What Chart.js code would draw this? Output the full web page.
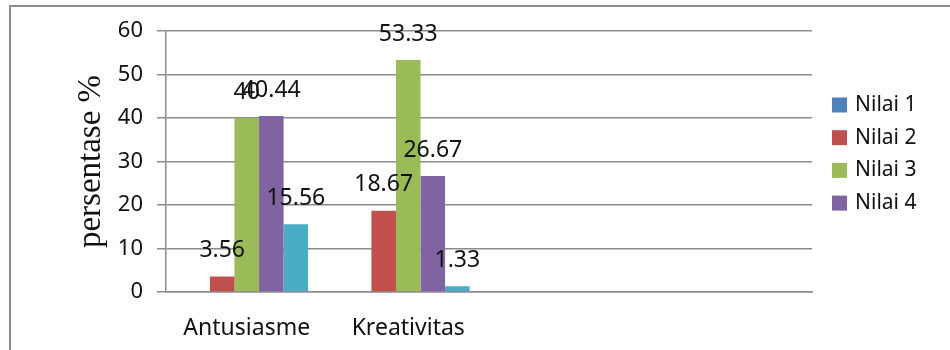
<!DOCTYPE html>
<html>
<head>
<meta charset="utf-8">
<script src="https://cdn.jsdelivr.net/npm/chart.js@4.4.1/dist/chart.umd.min.js"></script>
<style>
  html, body { margin: 0; padding: 0; background: #fff; }
  #wrap { width: 950px; height: 350px; position: relative; }
</style>
</head>
<body>
<div id="wrap"><canvas id="myChart" width="950" height="350"></canvas></div>
<script>
const labels = ["Antusiasme", "Kreativitas", "", ""];
const nilai1 = [0, 0, null, null];
const nilai2 = [3.56, 18.67, null, null];
const nilai3 = [40, 53.33, null, null];
const nilai4 = [40.44, 26.67, null, null];
const nilai5 = [15.56, 1.33, null, null];
const legendNames = ["Nilai 1", "Nilai 2", "Nilai 3", "Nilai 4"];
const colors = ["#4F81BD", "#C0504D", "#9BBB59", "#8064A2", "#4BACC6"];
const gridColor = "#8c8c8c";
const textColor = "#111";

// frame lines round the chart
const framePlugin = {
  id: "frame",
  beforeDraw(chart) {
    const ctx = chart.ctx;
    ctx.save();
    ctx.fillStyle = gridColor;
    ctx.fillRect(9, 5, 941, 2);
    ctx.fillRect(9, 5, 2, 345);
    ctx.restore();
  },
};

// value written above each bar
const valueLabels = {
  id: "valueLabels",
  afterDatasetsDraw(chart) {
    const ctx = chart.ctx;
    ctx.save();
    ctx.font = "23px 'Noto Sans'";
    ctx.fillStyle = textColor;
    ctx.textAlign = "center";
    ctx.textBaseline = "middle";
    chart.data.datasets.forEach((ds, i) => {
      chart.getDatasetMeta(i).data.forEach((bar, j) => {
        const v = ds.data[j];
        if (v === null || v === 0) return;
        ctx.fillText(String(v), bar.x, bar.y - 26);
      });
    });
    ctx.restore();
  },
};

// legend on the right, first four series only
const sideLegend = {
  id: "sideLegend",
  afterDraw(chart) {
    const ctx = chart.ctx;
    ctx.save();
    ctx.font = "21px 'Noto Sans'";
    ctx.textBaseline = "middle";
    legendNames.forEach((name, i) => {
      const y = 105 + i * 32.7;
      ctx.fillStyle = chart.data.datasets[i].backgroundColor;
      ctx.fillRect(832, y - 7.5, 15, 15);
      ctx.fillStyle = textColor;
      ctx.fillText(name, 855, y);
    });
    ctx.restore();
  },
};

const data = {
  labels: labels,
  datasets: [
    { label: "Nilai 1", data: nilai1, backgroundColor: colors[0] },
    { label: "Nilai 2", data: nilai2, backgroundColor: colors[1] },
    { label: "Nilai 3", data: nilai3, backgroundColor: colors[2] },
    { label: "Nilai 4", data: nilai4, backgroundColor: colors[3] },
    { label: "Nilai 5", data: nilai5, backgroundColor: colors[4] },
  ],
};

const config = {
  type: "bar",
  data: data,
  plugins: [framePlugin, valueLabels, sideLegend],
  options: {
    responsive: false,
    animation: false,
    categoryPercentage: 0.76,
    barPercentage: 1,
    layout: { padding: { top: 31, right: 138, bottom: 0, left: 0 } },
    plugins: {
      legend: { display: false },
      tooltip: { enabled: false },
    },
    scales: {
      x: {
        grid: { display: true, drawOnChartArea: false, drawTicks: false },
        border: { color: gridColor, width: 1.5 },
        ticks: { color: textColor, font: { family: "'Noto Sans'", size: 23 }, padding: 23 },
        afterFit(scale) { scale.height = 58; },
      },
      y: {
        min: 0,
        max: 60,
        ticks: { stepSize: 10, color: textColor, font: { family: "'Noto Sans'", size: 22 }, padding: 14 },
        grid: { color: gridColor, lineWidth: 1.5, tickLength: 9 },
        border: { color: gridColor, width: 1.5 },
        title: {
          display: true,
          text: "persentase %",
          color: textColor,
          font: { family: "'Liberation Serif'", size: 33 },
          padding: { top: 72 },
        },
        afterFit(scale) { scale.width = 166; },
      },
    },
  },
};

const myChart = new Chart(document.getElementById("myChart"), config);
</script>
</body>
</html>
